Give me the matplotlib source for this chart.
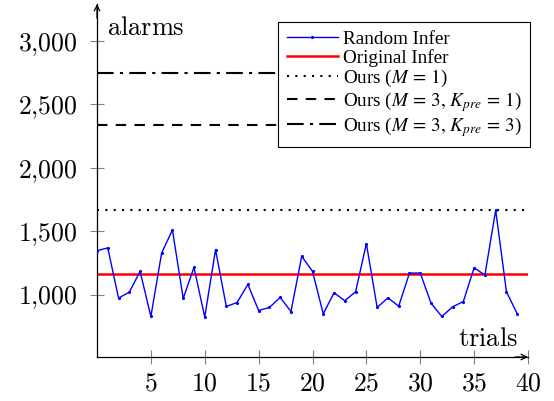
import matplotlib.pyplot as plt
import numpy as np

plt.switch_backend('agg')
plt.rcParams['font.family'] = ['Liberation Serif', 'DejaVu Serif']
plt.rcParams['mathtext.fontset'] = 'cm'

# trials and alarm counts for random inference
trials = list(range(40))
random_infer = [1348, 1369, 974, 1021, 1184, 829, 1329, 1511, 971, 1216,
                824, 1355, 908, 939, 1081, 876, 900, 979, 868, 1303,
                1184, 850, 1016, 953, 1024, 1403, 900, 976, 910, 1171,
                1171, 934, 829, 905, 947, 1213, 1155, 1666, 1024, 850]

# constant reference levels
original_infer = 1163
ours_m1 = 1668
ours_m3_k1 = 2335
ours_m3_k3 = 2746

xticks = [5, 10, 15, 20, 25, 30, 35, 40]
yticks = [1000, 1500, 2000, 2500, 3000]
ytick_labels = ['$1{,}000$', '$1{,}500$', '$2{,}000$', '$2{,}500$', '$3{,}000$']

fig = plt.figure(figsize=(5.54, 4.01), dpi=100)
ax = fig.add_axes([97 / 554, 1 - 357 / 401, 431 / 554, 353 / 401])

ax.plot(trials, random_infer, color='blue', lw=1.0, marker='.', markersize=2.5,
        label='Random Infer', zorder=3)
ax.axhline(original_infer, color='red', lw=1.8, label='Original Infer', zorder=2)
ax.axhline(ours_m1, color='black', lw=1.5, linestyle=(0, (1, 3)),
           label=r'Ours ($M\,=\,1$)')
ax.axhline(ours_m3_k1, color='black', lw=1.5, linestyle=(0, (5, 4)),
           label=r'Ours ($M\,=\,3,\,K_{pre}\,=\,1$)')
ax.axhline(ours_m3_k3, color='black', lw=1.5, linestyle=(0, (8, 3, 1.5, 3)),
           label=r'Ours ($M\,=\,3,\,K_{pre}\,=\,3$)')

ax.set_xlim(0, 40)
ax.set_ylim(510, 3290)
ax.set_xticks(xticks)
ax.set_xticklabels(['$%d$' % t for t in xticks])
ax.set_yticks(yticks)
ax.set_yticklabels(ytick_labels)
ax.tick_params(labelsize=18.5, direction='inout', length=9.4, width=0.8,
               color='gray')
ax.tick_params(axis='x', pad=7)
ax.tick_params(axis='y', pad=9)

for side in ['top', 'right']:
    ax.spines[side].set_visible(False)
for side in ['left', 'bottom']:
    ax.spines[side].set_linewidth(0.9)

# axis arrows
ax.annotate('', xy=(1.0, 0), xytext=(0.97, 0), xycoords='axes fraction',
            arrowprops=dict(arrowstyle='->', color='black', lw=0.9,
                            shrinkA=0, shrinkB=0))
ax.annotate('', xy=(0, 1.0), xytext=(0, 0.96), xycoords='axes fraction',
            arrowprops=dict(arrowstyle='->', color='black', lw=0.9,
                            shrinkA=0, shrinkB=0))

fig.text(107 / 554, 1 - 35 / 401, r'$\mathrm{alarms}$', fontsize=19,
         va='baseline', ha='left')
fig.text(518 / 554, 1 - 346 / 401, r'$\mathrm{trials}$', fontsize=19,
         va='baseline', ha='right')

leg = ax.legend(loc='upper right', bbox_to_anchor=(530 / 554, 1 - 22 / 401),
                bbox_transform=fig.transFigure, fontsize=13.8, frameon=True,
                fancybox=False, edgecolor='black', framealpha=1,
                handlelength=2.65, handletextpad=0.25, labelspacing=0.05,
                borderpad=0.45, borderaxespad=0)
leg.get_frame().set_linewidth(0.8)
for t in leg.get_texts():
    t.set_math_fontfamily('stix')

plt.savefig('out.png', dpi=100)
